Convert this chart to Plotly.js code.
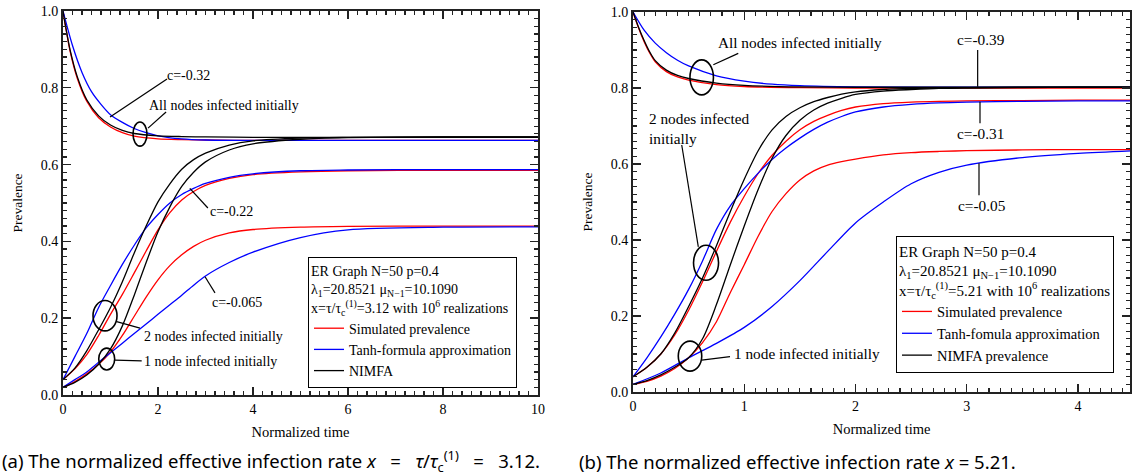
<!DOCTYPE html>
<html>
<head>
<meta charset="utf-8">
<script src="https://cdn.plot.ly/plotly-3.0.1.min.js"></script>
<style>html,body{margin:0;padding:0;background:#fff;}#chart{width:1140px;height:476px;}</style>
</head>
<body>
<div id="chart"></div>
<script>
// ---------- Panel (a): x = 3.12 ----------
const a_t_decay = [0, 0.05, 0.15, 0.3, 0.5, 0.75, 1.0, 1.25, 1.5, 2.0, 2.5, 3.0, 4, 6, 8, 10];
const a_sim_all = [1.0, 0.962, 0.895, 0.825, 0.765, 0.722, 0.698, 0.683, 0.674, 0.667, 0.665, 0.664, 0.663, 0.663, 0.663, 0.663];
const a_nimfa_all = [1.0, 0.963, 0.898, 0.829, 0.769, 0.727, 0.703, 0.689, 0.681, 0.675, 0.673, 0.672, 0.671, 0.671, 0.671, 0.671];
const a_t_tanh_all = [0, 0.2, 0.4, 0.6, 0.8, 1.0, 1.25, 1.5, 1.75, 2.0, 2.5, 3, 4, 10];
const a_tanh_all = [1.0, 0.91, 0.84, 0.79, 0.757, 0.73, 0.71, 0.694, 0.683, 0.675, 0.667, 0.664, 0.663, 0.663];

const a_t_rise = [0, 0.25, 0.5, 0.75, 1.0, 1.25, 1.5, 1.75, 2.0, 2.25, 2.5, 2.75, 3.0, 3.5, 4, 5, 6, 8, 10];
const a_nimfa_2 = [0.04, 0.07, 0.115, 0.17, 0.228, 0.295, 0.37, 0.44, 0.503, 0.55, 0.588, 0.613, 0.63, 0.651, 0.662, 0.669, 0.671, 0.672, 0.672];
const a_nimfa_1 = [0.02, 0.033, 0.052, 0.08, 0.12, 0.18, 0.26, 0.345, 0.425, 0.49, 0.543, 0.58, 0.607, 0.638, 0.654, 0.666, 0.67, 0.672, 0.672];
const a_sim_2 = [0.04, 0.068, 0.105, 0.155, 0.21, 0.262, 0.318, 0.375, 0.43, 0.475, 0.508, 0.53, 0.546, 0.564, 0.574, 0.581, 0.584, 0.585, 0.585];
const a_tanh_2 = [0.04, 0.1, 0.16, 0.228, 0.285, 0.34, 0.39, 0.435, 0.47, 0.5, 0.522, 0.538, 0.551, 0.567, 0.576, 0.584, 0.586, 0.587, 0.587];
const a_sim_1 = [0.02, 0.035, 0.055, 0.08, 0.112, 0.155, 0.205, 0.255, 0.3, 0.337, 0.365, 0.387, 0.403, 0.422, 0.431, 0.437, 0.439, 0.44, 0.44];
const a_tanh_1 = [0.02, 0.04, 0.06, 0.085, 0.11, 0.135, 0.16, 0.185, 0.21, 0.235, 0.26, 0.286, 0.31, 0.345, 0.372, 0.41, 0.43, 0.437, 0.438];

// ---------- Panel (b): x = 5.21 ----------
const b_t_decay = [0, 0.05, 0.1, 0.15, 0.2, 0.3, 0.4, 0.5, 0.75, 1.0, 1.5, 2.0, 3.0, 4.5];
const b_nimfa_all = [1.0, 0.96, 0.925, 0.895, 0.872, 0.847, 0.833, 0.825, 0.813, 0.807, 0.803, 0.802, 0.802, 0.802];
const b_sim_all = [1.0, 0.958, 0.922, 0.892, 0.869, 0.843, 0.829, 0.821, 0.809, 0.804, 0.801, 0.8, 0.8, 0.8];
const b_t_tanh_all = [0, 0.1, 0.2, 0.3, 0.4, 0.5, 0.75, 1.0, 1.25, 1.5, 2.0, 3.0, 4.5];
const b_tanh_all = [1.0, 0.952, 0.918, 0.893, 0.873, 0.858, 0.832, 0.818, 0.81, 0.806, 0.803, 0.802, 0.802];

const b_t_rise = [0, 0.125, 0.25, 0.375, 0.5, 0.625, 0.75, 0.875, 1.0, 1.125, 1.25, 1.375, 1.5, 1.625, 1.75, 1.875, 2.0, 2.25, 2.5, 2.75, 3.0, 3.5, 4.0, 4.5];
const b_nimfa_2 = [0.04, 0.065, 0.1, 0.155, 0.225, 0.3, 0.385, 0.475, 0.56, 0.635, 0.69, 0.725, 0.748, 0.764, 0.775, 0.784, 0.79, 0.796, 0.799, 0.8, 0.801, 0.802, 0.802, 0.802];
const b_nimfa_1 = [0.02, 0.03, 0.045, 0.065, 0.09, 0.14, 0.23, 0.335, 0.437, 0.533, 0.615, 0.675, 0.715, 0.742, 0.76, 0.773, 0.783, 0.792, 0.796, 0.799, 0.8, 0.801, 0.802, 0.802];
const b_sim_2 = [0.04, 0.065, 0.1, 0.15, 0.215, 0.29, 0.37, 0.447, 0.515, 0.575, 0.623, 0.66, 0.69, 0.712, 0.728, 0.741, 0.75, 0.759, 0.763, 0.765, 0.766, 0.767, 0.768, 0.768];
const b_tanh_2 = [0.04, 0.09, 0.145, 0.205, 0.27, 0.345, 0.428, 0.49, 0.535, 0.576, 0.612, 0.642, 0.668, 0.691, 0.71, 0.725, 0.737, 0.75, 0.757, 0.761, 0.763, 0.765, 0.766, 0.766];
const b_sim_1 = [0.02, 0.028, 0.042, 0.062, 0.09, 0.13, 0.185, 0.262, 0.335, 0.41, 0.475, 0.522, 0.558, 0.582, 0.597, 0.606, 0.613, 0.624, 0.63, 0.633, 0.635, 0.637, 0.638, 0.638];
const b_t_tanh_1 = [0, 0.25, 0.5, 0.75, 1.0, 1.25, 1.5, 1.75, 2.0, 2.25, 2.5, 2.75, 3.0, 3.5, 4.0, 4.5];
const b_tanh_1 = [0.02, 0.05, 0.09, 0.128, 0.17, 0.225, 0.293, 0.37, 0.445, 0.5, 0.548, 0.578, 0.597, 0.617, 0.628, 0.635];

const legendNamesA = ["Simulated prevalence", "Tanh-formula approximation", "NIMFA"];
const legendNamesB = ["Simulated prevalence", "Tanh-fomula approximation", "NIMFA prevalence"];

const RED = "#ff0000", BLUE = "#0000ff", BLACK = "#000000";
const FONT = "Liberation Serif, Times New Roman, serif";

function tr(x, y, color, ax, name, show, leg) {
  return {
    type: "scatter", mode: "lines", x: x, y: y,
    xaxis: ax === 1 ? "x" : "x2", yaxis: ax === 1 ? "y" : "y2",
    line: {color: color, width: 1.3, shape: "spline", smoothing: 0.8},
    name: name || "", showlegend: !!show, legend: leg || "legend",
    hoverinfo: "skip"
  };
}

const traces = [
  tr(a_t_decay, a_sim_all, RED, 1, legendNamesA[0], true, "legend"),
  tr(a_t_tanh_all, a_tanh_all, BLUE, 1, legendNamesA[1], true, "legend"),
  tr(a_t_decay, a_nimfa_all, BLACK, 1, legendNamesA[2], true, "legend"),
  tr(a_t_rise, a_sim_2, RED, 1), tr(a_t_rise, a_sim_1, RED, 1),
  tr(a_t_rise, a_tanh_2, BLUE, 1), tr(a_t_rise, a_tanh_1, BLUE, 1),
  tr(a_t_rise, a_nimfa_2, BLACK, 1), tr(a_t_rise, a_nimfa_1, BLACK, 1),

  tr(b_t_decay, b_sim_all, RED, 2, legendNamesB[0], true, "legend2"),
  tr(b_t_tanh_all, b_tanh_all, BLUE, 2, legendNamesB[1], true, "legend2"),
  tr(b_t_decay, b_nimfa_all, BLACK, 2, legendNamesB[2], true, "legend2"),
  tr(b_t_rise, b_sim_2, RED, 2), tr(b_t_rise, b_sim_1, RED, 2),
  tr(b_t_rise, b_tanh_2, BLUE, 2), tr(b_t_tanh_1, b_tanh_1, BLUE, 2),
  tr(b_t_rise, b_nimfa_2, BLACK, 2), tr(b_t_rise, b_nimfa_1, BLACK, 2)
];

function xax(domain, range, dtick, mdtick, anchor) {
  return {
    domain: domain, range: range, anchor: anchor, dtick: dtick, tick0: 0,
    showgrid: false, zeroline: false, showline: true, linecolor: "#222", linewidth: 2,
    mirror: "allticks", ticks: "inside", ticklen: 8, tickwidth: 1.4, tickcolor: "#222",
    minor: {dtick: mdtick, tick0: 0, ticks: "inside", ticklen: 4, tickwidth: 1.2, tickcolor: "#222", showgrid: false},
    tickfont: {family: FONT, size: 14, color: "#000"},
    title: {text: "Normalized time", font: {family: FONT, size: 14.5, color: "#000"}, standoff: 11},
    fixedrange: true, automargin: false
  };
}
function yax(domain, anchor) {
  return {
    domain: domain, range: [0, 1], anchor: anchor, dtick: 0.2, tick0: 0, tickformat: ".1f",
    showgrid: false, zeroline: false, showline: true, linecolor: "#222", linewidth: 2,
    mirror: "allticks", ticks: "inside", ticklen: 8, tickwidth: 1.4, tickcolor: "#222",
    minor: {dtick: 0.02, tick0: 0, ticks: "inside", ticklen: 4, tickwidth: 1.2, tickcolor: "#222", showgrid: false},
    tickfont: {family: FONT, size: 14, color: "#000"},
    title: {text: "Prevalence", font: {family: FONT, size: 13.5, color: "#000"}, standoff: 15},
    fixedrange: true, automargin: false
  };
}

function lab(text, x, y, ax, xanchor, align) {
  return {text: text, x: x, y: y, xref: ax === 1 ? "x" : "x2", yref: ax === 1 ? "y" : "y2",
    showarrow: false, xanchor: xanchor || "center", yanchor: "middle", align: align || "left",
    font: {family: FONT, size: ax === 1 ? 14 : 15.3, color: "#000"}};
}
function seg(x0, y0, x1, y1, ax) {
  return {type: "line", x0: x0, y0: y0, x1: x1, y1: y1, xref: ax === 1 ? "x" : "x2", yref: ax === 1 ? "y" : "y2",
    line: {color: "#000", width: 1.2}};
}
function ell(x0, y0, x1, y1, ax) {
  return {type: "circle", x0: x0, y0: y0, x1: x1, y1: y1, xref: ax === 1 ? "x" : "x2", yref: ax === 1 ? "y" : "y2",
    line: {color: "#000", width: 1.6}};
}

const capFont = {family: "Noto Sans, sans-serif", size: 18.5, color: "#000"};
const annotations = [
  lab("c=-0.32", 2.65, 0.833, 1),
  lab("All nodes infected initially", 3.39, 0.755, 1),
  lab("c=-0.22", 3.54, 0.477, 1),
  lab("c=-0.065", 3.67, 0.240, 1),
  lab("2 nodes infected initially", 1.663, 0.152, 1, "left"),
  lab("1 node infected initially", 1.663, 0.0867, 1, "left"),

  lab("All nodes infected initially", 1.501, 0.919, 2),
  lab("2 nodes infected<br>initially", 0.123, 0.6934, 2, "left", "left"),
  lab("1 node infected initially", 0.887, 0.1, 2, "left"),
  lab("c=-0.39", 3.128, 0.928, 2),
  lab("c=-0.31", 3.124, 0.681, 2),
  lab("c=-0.05", 3.137, 0.492, 2),

  {text: "(a) The normalized effective infection rate <i>x</i> &nbsp;&nbsp;=&nbsp;&nbsp; <i>τ</i>/<i>τ</i><sub>c</sub><sup>(1)</sup> &nbsp;&nbsp;=&nbsp;&nbsp; 3.12.",
   x: 0, y: 0.0315, xref: "paper", yref: "paper", xanchor: "left", yanchor: "middle", showarrow: false, font: capFont},
  {text: "(b) The normalized effective infection rate <i>x</i> = 5.21.",
   x: 0.506, y: 0.0315, xref: "paper", yref: "paper", xanchor: "left", yanchor: "middle", showarrow: false, font: capFont}
];

const shapes = [
  seg(0.99, 0.724, 2.19, 0.823, 1),
  seg(1.79, 0.695, 2.17, 0.737, 1),
  ell(1.474, 0.648, 1.768, 0.711, 1),
  seg(2.67, 0.538, 3.05, 0.487, 1),
  seg(2.99, 0.308, 3.2, 0.266, 1),
  ell(0.632, 0.167, 1.137, 0.246, 1),
  seg(1.13, 0.191, 1.62, 0.174, 1),
  ell(0.752, 0.065, 1.088, 0.122, 1),
  seg(1.095, 0.091, 1.657, 0.089, 1),

  seg(0.722, 0.861, 0.946, 0.891, 2),
  ell(0.512, 0.782, 0.723, 0.874, 2),
  seg(0.438, 0.65, 0.587, 0.382, 2),
  ell(0.544, 0.294, 0.769, 0.386, 2),
  seg(0.618, 0.084, 0.872, 0.093, 2),
  ell(0.407, 0.055, 0.618, 0.134, 2),
  seg(3.098, 0.9, 3.098, 0.803, 2),
  seg(3.119, 0.764, 3.119, 0.707, 2),
  seg(3.11, 0.602, 3.11, 0.518, 2)
];

function legendCfg(x, y, line3, titleSize, itemSize) {
  return {
    x: x, y: y, xanchor: "left", yanchor: "top", xref: "paper", yref: "paper",
    bgcolor: "#fff", bordercolor: "#000", borderwidth: 1,
    font: {family: FONT, size: itemSize, color: "#000"},
    title: {text: "ER Graph N=50 p=0.4<br>λ<sub>1</sub>=20.8521 μ<sub>N−1</sub>=10.1090<br>" + line3,
            font: {family: FONT, size: titleSize, color: "#000"}, side: "top"},
    tracegroupgap: 0, itemwidth: 30, traceorder: "normal", itemclick: false, itemdoubleclick: false
  };
}

const layout = {
  width: 1140, height: 476,
  margin: {l: 0, r: 0, t: 0, b: 0, autoexpand: false},
  paper_bgcolor: "#fff", plot_bgcolor: "#fff",
  font: {family: FONT, size: 14, color: "#000"},
  xaxis: xax([0.055263, 0.471930], [0, 10], 2, 0.2, "y"),
  yaxis: yax([0.170168, 0.976891], "x"),
  xaxis2: xax([0.555263, 0.991491], [0, 4.47], 1, 0.1, "y2"),
  yaxis2: yax([0.176471, 0.974790], "x2"),
  legend: legendCfg(0.27018, 0.46008, "x=τ/τ<sub>c</sub><sup>(1)</sup>=3.12 with 10<sup>6</sup> realizations", 14, 14),
  legend2: legendCfg(0.78596, 0.50420, "x=τ/τ<sub>c</sub><sup>(1)</sup>=5.21 with 10<sup>6</sup> realizations", 15, 14.5),
  annotations: annotations,
  shapes: shapes,
  showlegend: true
};

Plotly.newPlot("chart", traces, layout, {displayModeBar: false, staticPlot: true});
</script>
</body>
</html>
